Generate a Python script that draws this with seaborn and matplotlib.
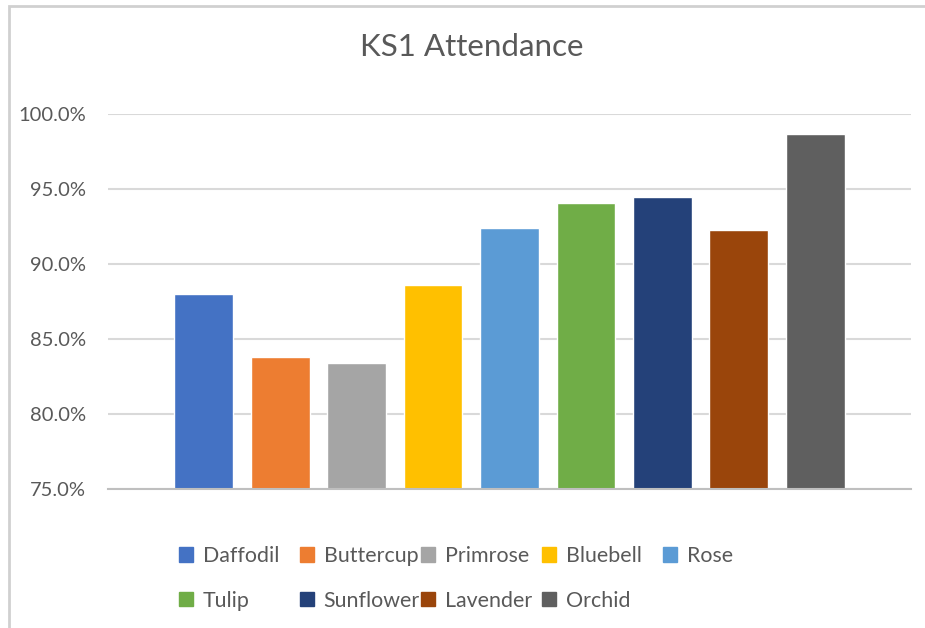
import matplotlib
matplotlib.use('Agg')
import matplotlib.pyplot as plt
import matplotlib.patches as mpatches
import matplotlib.ticker as mticker
import seaborn as sns
import pandas as pd

# Class attendance (percent)
classes = ['Daffodil', 'Buttercup', 'Primrose', 'Bluebell', 'Rose',
           'Tulip', 'Sunflower', 'Lavender', 'Orchid']
attendance = [88.0, 83.8, 83.4, 88.6, 92.4, 94.1, 94.5, 92.3, 98.7]
colors = ['#4472C4', '#ED7D31', '#A5A5A5', '#FFC000', '#5B9BD5',
          '#70AD47', '#244179', '#9A450B', '#5F5F5F']
y_ticks = [75, 80, 85, 90, 95, 100]

df = pd.DataFrame({'Class': classes, 'Attendance': attendance})

sns.set_style('white')
plt.rcParams['font.family'] = ['Lato', 'DejaVu Sans']

fig = plt.figure(figsize=(9.25, 6.28), dpi=100)
ax = fig.add_axes([108 / 925, 1 - 489 / 628, 803 / 925, 375 / 628])

sns.barplot(data=df, x='Class', y='Attendance', hue='Class',
            palette=colors, dodge=False, width=0.77, legend=False,
            saturation=1, ax=ax)

ax.set_ylim(75, 100)
ax.set_xlim(-1.25, 9.25)
ax.set_yticks(y_ticks)
ax.yaxis.set_major_formatter(mticker.FuncFormatter(lambda v, p: f'{v:.1f}%'))
ax.set_xticks([])
ax.set_xlabel('')
ax.set_ylabel('')
ax.grid(axis='y', color='#D9D9D9', linewidth=1.5)
ax.set_axisbelow(True)
for s in ['top', 'right', 'left']:
    ax.spines[s].set_visible(False)
ax.spines['bottom'].set_color('#BFBFBF')
ax.spines['bottom'].set_linewidth(1.5)
ax.tick_params(axis='y', length=0, pad=16, labelsize=14.5, labelcolor='#595959')

fig.text(472 / 925, 1 - 47 / 628, 'KS1 Attendance', ha='center', va='center',
         fontsize=22.6, color='#595959')

# legend: Excel-style equal-width columns, one legend per column
handles = [mpatches.Patch(color=c, label=n) for n, c in zip(classes, colors)]
ncol = 5
col_x = [179, 300, 421, 542, 663]
for j in range(ncol):
    idx = [i for i in (j, j + ncol) if i < len(classes)]
    leg = fig.legend([handles[i] for i in idx], [classes[i] for i in idx],
                     loc='upper left', bbox_to_anchor=(col_x[j] / 925, 1 - 546 / 628),
                     frameon=False, fontsize=15.4, labelcolor='#595959',
                     handlelength=0.65, handleheight=0.65, handletextpad=0.45,
                     borderpad=0, borderaxespad=0, labelspacing=1.15)

# outer chart border
fig.patches.append(mpatches.Rectangle((9 / 925, -0.1), 1.2, 1 - 6 / 628 + 0.1,
                                      transform=fig.transFigure, fill=False,
                                      edgecolor='#D0D0D0', linewidth=2))

fig.savefig('out.png', dpi=100)
